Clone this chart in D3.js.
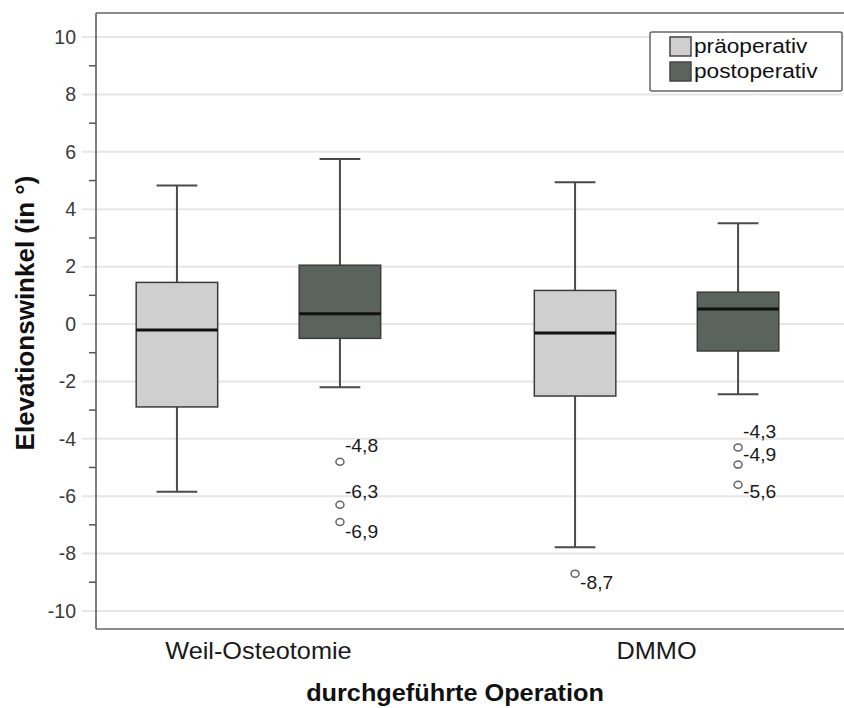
<!DOCTYPE html>
<html>
<head>
<meta charset="utf-8">
<script src="https://cdn.jsdelivr.net/npm/d3@7/dist/d3.min.js"></script>
<style>
  html, body { margin: 0; padding: 0; background: #fff; }
  svg { display: block; font-family: "Liberation Sans", Arial, sans-serif; }
</style>
</head>
<body>
<svg id="chart" width="844" height="708"></svg>
<script>
// Elevation angle before and after surgery, grouped by operation type
const categories = ["Weil-Osteotomie", "DMMO"];
const series = ["präoperativ", "postoperativ"];

// Box summaries: [lower whisker, Q1, median, Q3, upper whisker]
const weilPre  = [-5.85, -2.89, -0.21, 1.45, 4.83];
const weilPost = [-2.20, -0.50,  0.36, 2.05, 5.75];
const dmmoPre  = [-7.78, -2.51, -0.31, 1.17, 4.94];
const dmmoPost = [-2.45, -0.94,  0.52, 1.11, 3.51];

// Outliers per box
const weilPreOutliers  = [];
const weilPostOutliers = [-4.8, -6.3, -6.9];
const dmmoPreOutliers  = [-8.7];
const dmmoPostOutliers = [-4.3, -4.9, -5.6];

const yMajorTicks = [-10, -8, -6, -4, -2, 0, 2, 4, 6, 8, 10];
const yMinorTicks = [-9, -7, -5, -3, -1, 1, 3, 5, 7, 9];

const seriesColors = ["#cfcfcf", "#5a635d"];

// Vertical nudges for outlier labels so they don't collide
const labelNudge = {
  "Weil-Osteotomie|postoperativ": [-10, -7, 16],
  "DMMO|präoperativ": [15],
  "DMMO|postoperativ": [-9, -4, 13]
};

const boxes = [
  { cat: categories[0], ser: series[0], s: weilPre,  out: weilPreOutliers },
  { cat: categories[0], ser: series[1], s: weilPost, out: weilPostOutliers },
  { cat: categories[1], ser: series[0], s: dmmoPre,  out: dmmoPreOutliers },
  { cat: categories[1], ser: series[1], s: dmmoPost, out: dmmoPostOutliers }
];

// German number formatting with a plain hyphen as minus sign
const de = d3.formatLocale({ decimal: ",", thousands: ".", grouping: [3], currency: ["", " €"], minus: "-" });
const fmt = de.format(".1f");
const tickFmt = de.format("d");

const plot = { left: 96, top: 13, bottom: 629, right: 844 };

const svg = d3.select("#chart");

const y = d3.scaleLinear().domain([-10.63, 10.84]).range([plot.bottom, plot.top]);
const x = d3.scalePoint().domain(categories).range([plot.left, 819]).padding(0.408);
const sub = d3.scaleBand().domain(series).range([-163, 163]).padding(0);
const boxW = sub.bandwidth() * 0.5;
const capW = boxW * 0.5;

function cx(cat, ser) { return x(cat) + sub(ser) + sub.bandwidth() / 2; }

// text helper with a horizontal stretch
function stext(g, px, py, str, opts) {
  const sx = opts.sx || 1;
  return g.append("text")
    .attr("transform", `translate(${px},${py}) scale(${sx},1)`)
    .attr("text-anchor", opts.anchor || "start")
    .attr("font-size", opts.size)
    .attr("font-weight", opts.weight || "normal")
    .attr("fill", opts.fill || "#222")
    .text(str);
}

// gridlines
svg.append("g").selectAll("line").data(yMajorTicks).join("line")
  .attr("x1", 82).attr("x2", plot.right)
  .attr("y1", d => y(d)).attr("y2", d => y(d))
  .attr("stroke", "#e6e6e6").attr("stroke-width", 2);

// frame lines: top and bottom
svg.append("line").attr("x1", plot.left).attr("x2", plot.right)
  .attr("y1", plot.top).attr("y2", plot.top).attr("stroke", "#666").attr("stroke-width", 1.5);
svg.append("line").attr("x1", plot.left).attr("x2", plot.right)
  .attr("y1", plot.bottom).attr("y2", plot.bottom).attr("stroke", "#666").attr("stroke-width", 1.5);

// y axis
const yAxis = svg.append("g").attr("transform", `translate(${plot.left},0)`)
  .call(d3.axisLeft(y).tickValues(yMajorTicks).tickSize(0).tickPadding(20).tickFormat(tickFmt));
yAxis.select(".domain").remove();
yAxis.selectAll("text").attr("font-size", 19.5).attr("fill", "#3a3a3a")
  .attr("font-family", "Liberation Sans, Arial, sans-serif");
svg.append("g").selectAll("line").data(yMinorTicks).join("line")
  .attr("x1", plot.left - 7).attr("x2", plot.left)
  .attr("y1", d => y(d)).attr("y2", d => y(d))
  .attr("stroke", "#555").attr("stroke-width", 1.5);
svg.append("line").attr("x1", plot.left).attr("x2", plot.left)
  .attr("y1", plot.top).attr("y2", plot.bottom).attr("stroke", "#555").attr("stroke-width", 1.5);

// boxes
const gb = svg.append("g");
boxes.forEach(b => {
  const c = cx(b.cat, b.ser);
  const [lo, q1, med, q3, hi] = b.s;
  const g = gb.append("g");
  g.append("line").attr("x1", c).attr("x2", c).attr("y1", y(hi)).attr("y2", y(q3))
    .attr("stroke", "#4a4a4a").attr("stroke-width", 2);
  g.append("line").attr("x1", c).attr("x2", c).attr("y1", y(q1)).attr("y2", y(lo))
    .attr("stroke", "#4a4a4a").attr("stroke-width", 2);
  g.append("line").attr("x1", c - capW / 2).attr("x2", c + capW / 2).attr("y1", y(hi)).attr("y2", y(hi))
    .attr("stroke", "#4a4a4a").attr("stroke-width", 2);
  g.append("line").attr("x1", c - capW / 2).attr("x2", c + capW / 2).attr("y1", y(lo)).attr("y2", y(lo))
    .attr("stroke", "#4a4a4a").attr("stroke-width", 2);
  g.append("rect").attr("x", c - boxW / 2).attr("width", boxW)
    .attr("y", y(q3)).attr("height", y(q1) - y(q3))
    .attr("fill", seriesColors[series.indexOf(b.ser)])
    .attr("stroke", "#3c3c3c").attr("stroke-width", 1.5);
  g.append("line").attr("x1", c - boxW / 2).attr("x2", c + boxW / 2).attr("y1", y(med)).attr("y2", y(med))
    .attr("stroke", "#111").attr("stroke-width", 3);

  const nud = labelNudge[b.cat + "|" + b.ser] || [];
  b.out.forEach((v, i) => {
    g.append("ellipse").attr("cx", c).attr("cy", y(v)).attr("rx", 4).attr("ry", 3.5)
      .attr("fill", "#fff").attr("stroke", "#666").attr("stroke-width", 1.5);
    stext(g, c + 5, y(v) + (nud[i] || 0), fmt(v), { size: 17.5, sx: 1.1, fill: "#1a1a1a" });
  });
});

// category labels
categories.forEach(cat => {
  stext(svg, x(cat), 659, cat, { size: 23, sx: 1.1, anchor: "middle", fill: "#1a1a1a" });
});

// axis titles
stext(svg, 455, 701, "durchgeführte Operation", { size: 23, sx: 1.1, anchor: "middle", weight: "bold", fill: "#111" });
svg.append("text")
  .attr("transform", `translate(34,313) rotate(-90)`)
  .attr("text-anchor", "middle")
  .attr("font-size", 26).attr("font-weight", "bold").attr("fill", "#111")
  .text("Elevationswinkel (in °)");

// legend
const lg = svg.append("g");
lg.append("rect").attr("x", 650).attr("y", 32).attr("width", 192).attr("height", 59)
  .attr("rx", 2).attr("fill", "#fff").attr("stroke", "#666").attr("stroke-width", 1.5);
series.forEach((s, i) => {
  const ry = 37 + i * 25;
  lg.append("rect").attr("x", 670).attr("y", ry).attr("width", 21).attr("height", 19)
    .attr("fill", seriesColors[i]).attr("stroke", "#444").attr("stroke-width", 1.5);
  stext(lg, 694, ry + 16, s, { size: 21, sx: 1.08, fill: "#111" });
});
</script>
</body>
</html>
